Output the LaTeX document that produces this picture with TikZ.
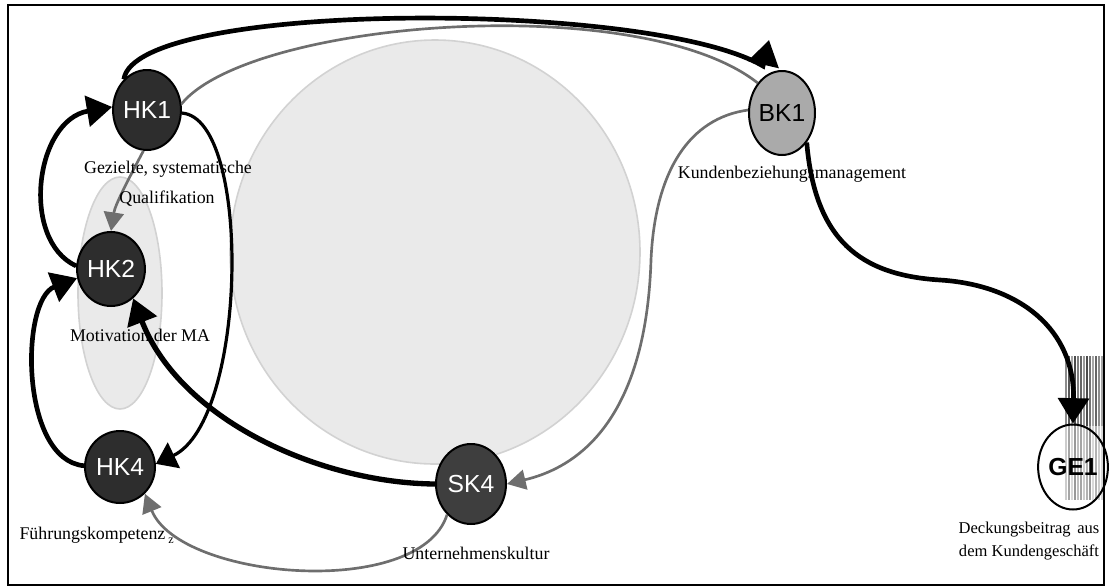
\documentclass[tikz,border=0pt]{standalone}
\usepackage{fontspec}
\setmainfont{Liberation Serif}
\newfontfamily\knotfont{Liberation Sans}
\usetikzlibrary{shapes.geometric,arrows.meta}

\definecolor{fieldfill}{RGB}{234,234,234}
\definecolor{fieldline}{RGB}{210,210,210}
\definecolor{hkfill}{RGB}{45,45,45}
\definecolor{skfill}{RGB}{62,62,62}
\definecolor{bkfill}{RGB}{170,170,170}
\definecolor{linkgray}{RGB}{110,110,110}

\tikzset{every picture/.style={line width=0.75pt}}
\tikzset{
	knot/.style={ellipse,draw=black,line width=1.5pt,inner sep=0pt,font=\knotfont\fontsize{18.5}{20}\selectfont},
	darkknot/.style={knot,fill=hkfill,text=white},
	caption/.style={inner sep=0.75pt,font=\fontsize{13.4}{17}\selectfont},
	boldlink/.style={line width=3.5pt,-{Triangle[length=19pt,width=23pt]}},
	thinlink/.style={line width=2.4pt,-{Triangle[length=15pt,width=21pt]}},
	graystroke/.style={draw=linkgray,line width=2pt},
	graylink/.style={graystroke,-{Triangle[length=14pt,width=15pt]}},
	field/.style={fill=fieldfill,draw=fieldline,line width=1.2pt}
}

\begin{document}
\begin{tikzpicture}[x=0.75pt,y=0.75pt,yscale=-1,xscale=1]
	\useasboundingbox (0,0) rectangle (1111,587);
	
	%Frame
	\draw [line width=1.5pt] (8,5) rectangle (1104,585);
	
	%Shape: Ellipse (big field)
	\draw [field] (435,252) ellipse (205 and 212);
	%Shape: Ellipse (field behind HK2)
	\draw [field] (120,293) ellipse (42 and 116);
	
	%Stripes round GE1
	\foreach \sx/\su/\sl in {1066/45/20,1069/65/35,1072/35/15,1075/70/40,1078/50/25,1081/60/35,1084/40/20,1087/70/30,1090/55/40,1093/35/15,1096/60/30,1099/45/20,1102/35/15} {
		\draw [black!\su,line width=0.9pt] (\sx,356) -- (\sx,426);
		\draw [black!\sl,line width=0.9pt] (\sx,426) -- (\sx,500);
	}
	
	% Knots
	\node [darkknot,minimum width=49.5pt,minimum height=60pt] (hk1) at (147,110) {HK1};
	\node [darkknot,minimum width=46.5pt,minimum height=55.5pt] (hk2) at (111,269) {HK2};
	\node [darkknot,minimum width=52.5pt,minimum height=54pt] (hk4) at (120,467) {HK4};
	\node [darkknot,fill=skfill,minimum width=52.5pt,minimum height=60pt] (sk4) at (471,484) {SK4};
	\node [knot,fill=bkfill,minimum width=49.5pt,minimum height=63pt] (bk1) at (782,113) {BK1};
	\node [knot,font=\knotfont\bfseries\fontsize{18.5}{20}\selectfont,minimum width=42.75pt,minimum height=63.75pt] (ge1) at (1073,467) {GE1};
	\coordinate (bktip) at (769,40);
	
	%Curve Lines
	\draw [boldlink] (hk1.127) .. controls (135,0) and (650,0) .. (763,66) -- (bktip);
	\draw [graystroke] (bk1.129) .. controls (640,-10) and (250,20) .. (hk1.10);
	\draw [graylink] (hk1.265) .. controls (128,180) and (115,205) .. (hk2.north);
	\draw [boldlink] (hk2.175) .. controls (20,240) and (35,120) .. (hk1.175);
	\draw [boldlink] (hk4.178) .. controls (20,460) and (20,300) .. (hk2.195);
	\draw [thinlink] (hk1.-5) .. controls (252,118) and (248,420) .. (hk4.5);
	\draw [boldlink,line width=4pt] (sk4.180) .. controls (320,483) and (180,420) .. (hk2.307);
	\draw [graylink] (bk1.175) .. controls (690,118) and (655,170) .. (651,260) .. controls (647,390) and (600,462) .. (sk4.east);
	\draw [graylink] (sk4.232) .. controls (420,600) and (180,580) .. (hk4.-47);
	\draw [boldlink] (bk1.-50) .. controls (815,240) and (860,275) .. (940,280) .. controls (1020,285) and (1075,330) .. (ge1.north);
	
	% Text Node
	\node [caption] (capgez) at (168,169) {Gezielte, systematische};
	% Text Node
	\node [caption] (capqual) at (167,199) {Qualifikation};
	% Text Node
	\node [caption] (capmot) at (140,335) {Motivation der MA};
	% Text Node
	\node [caption,anchor=west] (capfuehr) at (18,535) {Führungskompetenz\,{\fontsize{9}{9}\selectfont\raisebox{-3pt}{z}}};
	% Text Node
	\node [caption] (capunt) at (476,553) {Unternehmenskultur};
	% Text Node
	\node [caption] (capkun) at (792,174) {Kundenbeziehungsmanagement};
	% Text Node
	\node [caption,align=center,font=\fontsize{12.4}{17}\selectfont] (capdeck) at (1029,541) {Deckungsbeitrag\hspace{0.4em}aus\\dem Kundengeschäft};
	
\end{tikzpicture}
\end{document}
